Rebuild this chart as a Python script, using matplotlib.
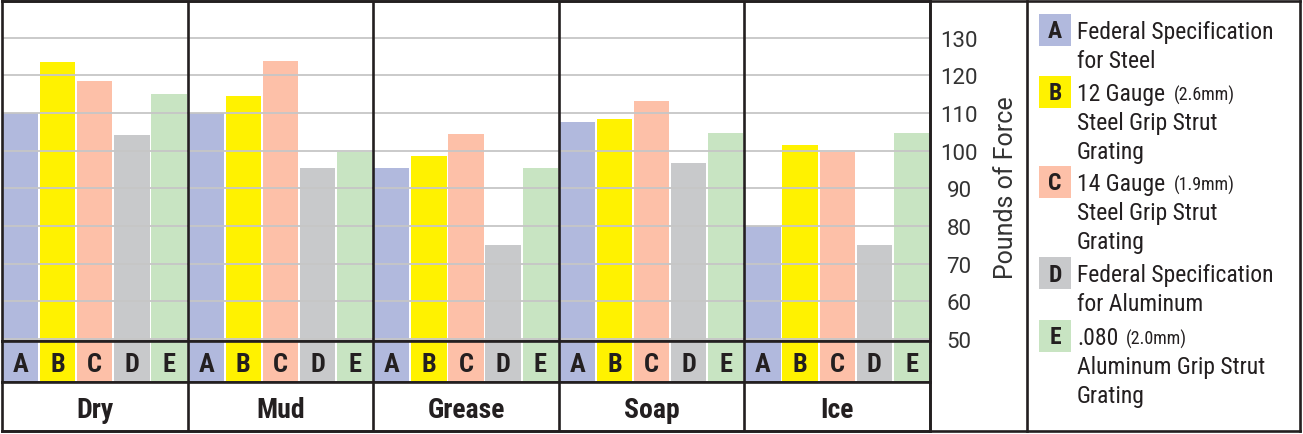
import matplotlib
matplotlib.use("Agg")
import matplotlib.pyplot as plt
import numpy as np
from matplotlib.lines import Line2D
from matplotlib.patches import Rectangle

# %% Data
conditions = ["Dry", "Mud", "Grease", "Soap", "Ice"]
letters = ["A", "B", "C", "D", "E"]

fed_steel = [110, 110, 95.3, 107.6, 80]
gauge12_steel = [123.4, 114.6, 98.5, 108.4, 101.4]
gauge14_steel = [118.6, 123.9, 104.4, 113.2, 99.7]
fed_aluminum = [104.2, 95.4, 75, 96.7, 75.1]
alum080 = [115.1, 99.7, 95.3, 104.7, 104.7]
series = [fed_steel, gauge12_steel, gauge14_steel, fed_aluminum, alum080]

colors = ["#b1b9dd", "#fff200", "#fdc0a8", "#c8c9cb", "#c8e4c2"]
yticks = [50, 60, 70, 80, 90, 100, 110, 120, 130]
ylabel = "Pounds of Force"

legend_lines = [
    ["Federal Specification", "for Steel"],
    ["12 Gauge", "Steel Grip Strut", "Grating"],
    ["14 Gauge", "Steel Grip Strut", "Grating"],
    ["Federal Specification", "for Aluminum"],
    [".080", "Aluminum Grip Strut", "Grating"],
]
legend_sizes = ["", "(2.6mm)", "(1.9mm)", "", "(2.0mm)"]

# %% Layout helpers
W, H = 1303, 435
DARK = "#231f20"
NARROW = ["Roboto Condensed", "Archivo Narrow", "Barlow Semi Condensed", "DejaVu Sans"]
LIGHT = ["Roboto", "DejaVu Sans"]

fig = plt.figure(figsize=(W / 100, H / 100), dpi=100)


def box(x0, y0, x1, y1):
    return [x0 / W, 1 - y1 / H, (x1 - x0) / W, (y1 - y0) / H]


def fx(x):
    return x / W


def fy(y):
    return 1 - y / H


ax = fig.add_axes(box(2, 2, 930, 342))
axl = fig.add_axes(box(2, 342, 930, 383))
axc = fig.add_axes(box(2, 383, 930, 432))

n = len(conditions)
for a in (ax, axl, axc):
    a.set_xlim(0, n * 5)
    a.set_xticks([])
    for s in a.spines.values():
        s.set_color(DARK)
        s.set_linewidth(1.9)
    for k in range(1, n):
        a.axvline(k * 5, color=DARK, lw=1.9, zorder=5)

# %% Bars
for j, vals in enumerate(series):
    xs = np.arange(n) * 5 + j + 0.5
    ax.bar(xs, np.array(vals) - 40, bottom=40, width=0.95, color=colors[j], lw=0)
    axl.bar(xs, 1, width=0.95, color=colors[j], lw=0)
    for x in xs:
        axl.text(x, 0.5, letters[j], ha="center", va="center_baseline",
                 fontsize=19, fontweight="bold", family=NARROW, color=DARK)

ax.set_ylim(49.5, 139.7)
ax.set_yticks(yticks)
ax.grid(axis="y", color="#c6c6c6", lw=1.3)
ax.tick_params(axis="y", left=False, labelleft=False, right=False,
               labelright=True, length=0, pad=21, labelsize=16,
               labelcolor="#333333")
for lab in ax.get_yticklabels():
    lab.set_horizontalalignment("center")
    lab.set_family(LIGHT)

axl.set_ylim(0, 1)
axl.set_yticks([])
axc.set_ylim(0, 1)
axc.set_yticks([])
for i, c in enumerate(conditions):
    axc.text(i * 5 + 2.5, 0.5, c, ha="center", va="center_baseline",
             fontsize=20, fontweight="bold", family=NARROW, color=DARK)

# %% Frame lines for the label and legend columns
for seg in [((2, 1300), (2, 2)), ((2, 1300), (432, 432)),
            ((930, 930), (2, 432)), ((1027, 1027), (2, 432)),
            ((1300, 1300), (2, 432))]:
    fig.add_artist(Line2D([fx(v) for v in seg[0]], [fy(v) for v in seg[1]],
                          color=DARK, lw=1.9))

fig.text(fx(1006), fy(188), ylabel, rotation=90, ha="center", va="center",
         fontsize=18, family=LIGHT, color="#333333")

# %% Legend
sw_tops = [15, 77, 167, 258, 321]
line_h = 29
size_x = [0, 1174, 1174, 0, 1126]
for j in range(len(letters)):
    top = sw_tops[j]
    fig.add_artist(Rectangle((fx(1039), fy(top + 32)), 32 / W, 32 / H,
                             transform=fig.transFigure, color=colors[j], lw=0))
    fig.text(fx(1055), fy(top + 23.5), letters[j], ha="center", va="baseline",
             fontsize=17, fontweight="bold", family=NARROW, color=DARK)
    for k, line in enumerate(legend_lines[j]):
        fig.text(fx(1077), fy(top + 24 + k * line_h), line, ha="left",
                 va="baseline", fontsize=17, family=NARROW, color=DARK)
    if legend_sizes[j]:
        fig.text(fx(size_x[j]), fy(top + 24), legend_sizes[j], ha="left",
                 va="baseline", fontsize=13, family=NARROW, color=DARK)

fig.savefig("out.png", dpi=100)
